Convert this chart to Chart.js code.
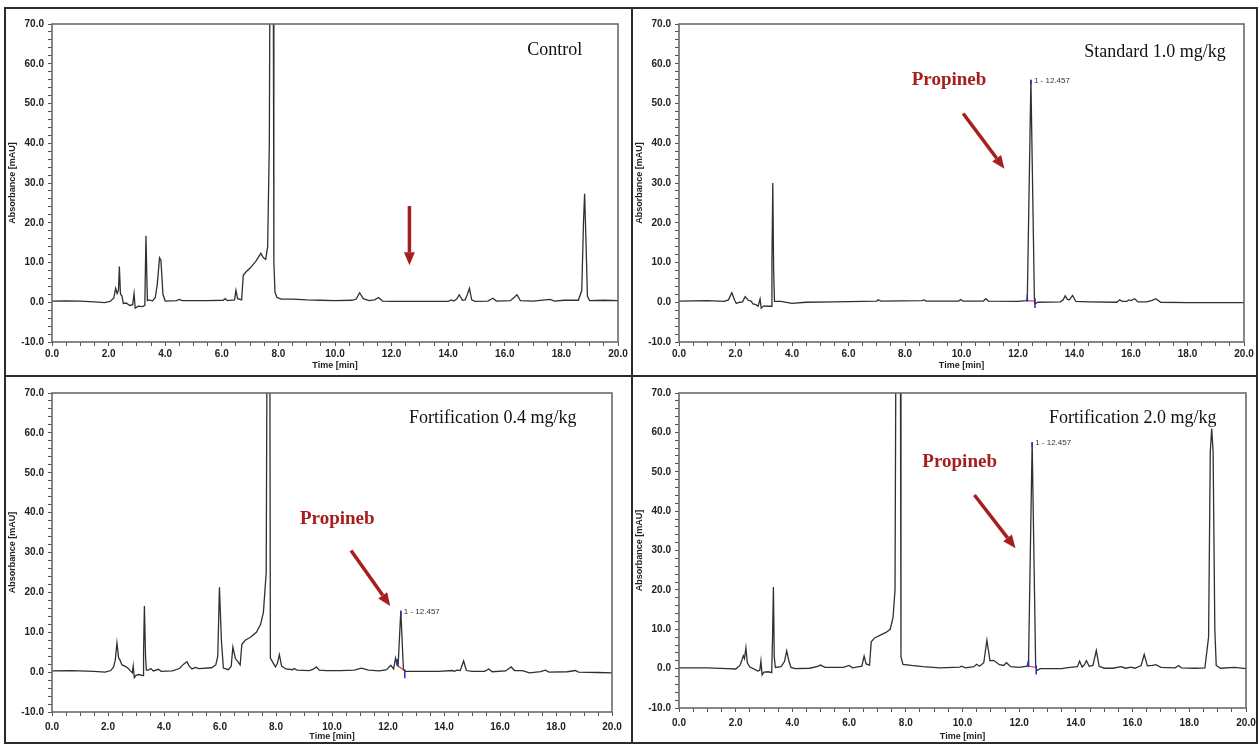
<!DOCTYPE html>
<html>
<head>
<meta charset="utf-8">
<script src="https://cdn.jsdelivr.net/npm/chart.js@4.4.0/dist/chart.umd.min.js"></script>
<style>
  html, body { margin: 0; padding: 0; background: #fff; }
  body { width: 1260px; height: 745px; position: relative; overflow: hidden; }
  .panel { position: absolute; }
  .rule { position: absolute; background: #2b2b2b; }
</style>
</head>
<body>
<div class="rule" style="left:4px;top:7px;width:1254px;height:2px"></div>
<div class="rule" style="left:4px;top:742px;width:1254px;height:2px"></div>
<div class="rule" style="left:4px;top:7px;width:2px;height:737px"></div>
<div class="rule" style="left:1256px;top:7px;width:2px;height:737px"></div>
<div class="rule" style="left:4px;top:375px;width:1254px;height:2px"></div>
<div class="rule" style="left:631px;top:7px;width:2px;height:737px"></div>

<div class="panel" style="left:6px;top:9px;width:625px;height:366px"><canvas id="c1"></canvas></div>
<div class="panel" style="left:633px;top:9px;width:623px;height:366px"><canvas id="c2"></canvas></div>
<div class="panel" style="left:6px;top:377px;width:625px;height:365px"><canvas id="c3"></canvas></div>
<div class="panel" style="left:633px;top:377px;width:623px;height:365px"><canvas id="c4"></canvas></div>

<script>
// retention time [min] and absorbance [mAU]
const controlTime = [0, 0.5, 1.0, 1.5, 1.85, 2.05, 2.18, 2.25, 2.3, 2.35, 2.38, 2.42, 2.47, 2.52, 2.62, 2.75, 2.85, 2.9, 2.94, 3.05, 3.2, 3.28, 3.32, 3.37, 3.45, 3.55, 3.65, 3.72, 3.8, 3.85, 3.92, 4.0, 4.4, 4.5, 4.6, 5.5, 6.05, 6.12, 6.2, 6.45, 6.5, 6.56, 6.7, 6.76, 6.85, 7.0, 7.2, 7.38, 7.47, 7.55, 7.62, 7.68, 7.72, 7.81, 7.84, 7.88, 7.95, 8.1, 8.5, 9.0, 9.5, 10.0, 10.6, 10.75, 10.87, 11.0, 11.2, 11.4, 11.54, 11.68, 12.0, 13.0, 14.0, 14.1, 14.2, 14.3, 14.39, 14.5, 14.6, 14.68, 14.75, 14.83, 14.95, 15.4, 15.58, 15.7, 16.2, 16.43, 16.55, 17.0, 17.6, 17.75, 18.1, 18.6, 18.72, 18.78, 18.82, 18.87, 18.92, 19.0, 19.5, 20.0];
const controlAbs = [0.3, 0.35, 0.3, 0.1, -0.1, 0.2, 1.0, 3.5, 2.2, 3.0, 9.0, 2.0, 1.6, -0.3, -0.2, -0.8, -0.6, 2.2, -1.5, -1.0, -1.1, -0.8, 16.7, 0.4, 0.6, 0.3, 1.2, 4.5, 11.2, 10.5, 2.0, 0.3, 0.4, 0.7, 0.4, 0.4, 0.5, 0.9, 0.4, 0.6, 3.0, 0.9, 0.6, 6.8, 7.6, 8.6, 10.3, 12.3, 11.2, 10.8, 14, 40, 120, 120, 10, 2.5, 1.2, 0.8, 0.8, 0.6, 0.5, 0.4, 0.5, 0.8, 2.4, 0.9, 0.4, 0.6, 1.2, 0.3, 0.2, 0.2, 0.2, 0.6, 0.3, 0.8, 1.9, 0.5, 0.6, 2.0, 3.5, 0.6, 0.2, 0.3, 1.0, 0.3, 0.4, 1.9, 0.4, 0.3, 0.7, 0.3, 0.5, 0.5, 3, 20, 27.3, 15, 1.5, 0.4, 0.5, 0.4];

const standardTime = [0, 1.0, 1.6, 1.75, 1.87, 1.97, 2.03, 2.15, 2.25, 2.34, 2.45, 2.55, 2.62, 2.72, 2.8, 2.87, 2.91, 3.0, 3.15, 3.27, 3.29, 3.32, 3.35, 3.38, 3.6, 4.0, 4.5, 5.5, 7.0, 7.05, 7.15, 8.6, 8.67, 8.75, 9.9, 9.97, 10.05, 10.78, 10.86, 10.95, 12.0, 12.3, 12.33, 12.457, 12.58, 12.6, 12.7, 13.5, 13.6, 13.67, 13.75, 13.82, 13.93, 14.05, 14.5, 15.5, 15.6, 15.7, 15.85, 15.92, 16.0, 16.13, 16.25, 16.55, 16.75, 16.88, 17.05, 18.0, 20.0];
const standardAbs = [0.3, 0.4, 0.2, 0.6, 2.4, 0.5, -0.3, 0, 0.1, 1.4, 0.5, 0.3, -0.4, -0.6, -1.0, 0.8, -1.5, -0.9, -1.0, -1.0, 10, 30, 8, 0.2, 0.2, -0.3, 0, 0.1, 0.3, 0.6, 0.3, 0.4, 0.6, 0.3, 0.3, 0.7, 0.3, 0.3, 0.9, 0.3, 0.2, 0.4, 1.0, 56, 1.0, -0.4, 0.0, 0.1, 0.6, 1.6, 0.7, 0.6, 1.7, 0.2, 0.1, 0.0, 0.6, 0.2, 0.2, 0.6, 0.4, 0.9, 0.1, 0.1, 0.5, 0.9, 0.0, -0.1, -0.1];

const fort04Time = [0, 0.7, 1.5, 1.9, 2.1, 2.2, 2.26, 2.32, 2.38, 2.43, 2.5, 2.6, 2.7, 2.8, 2.87, 2.9, 2.94, 3.0, 3.1, 3.25, 3.27, 3.3, 3.34, 3.37, 3.45, 3.53, 3.62, 3.8, 3.9, 4.3, 4.55, 4.7, 4.82, 4.9, 5.0, 5.12, 5.25, 5.7, 5.85, 5.92, 5.98, 6.05, 6.12, 6.3, 6.4, 6.46, 6.55, 6.65, 6.72, 6.78, 6.9, 7.1, 7.3, 7.45, 7.55, 7.65, 7.7, 7.77, 7.8, 7.88, 7.98, 8.05, 8.12, 8.2, 8.35, 8.6, 8.65, 8.75, 9.2, 9.35, 9.44, 9.55, 9.8, 10.3, 10.8, 11.05, 11.3, 11.7, 11.95, 12.1, 12.2, 12.27, 12.33, 12.36, 12.457, 12.55, 12.6, 13.0, 13.8, 14.3, 14.38, 14.45, 14.58, 14.7, 14.8, 15.0, 15.45, 15.6, 15.72, 16.2, 16.4, 16.52, 16.8, 17.05, 17.45, 17.62, 17.75, 18.4, 18.7, 18.8, 19.5, 20.0];
const fort04Abs = [0.3, 0.4, 0.2, 0, 0.4, 1.3, 3, 7.3, 3.5, 3.0, 1.8, 1.5, 1.1, 0.3, -0.2, 1.5, -1.4, -0.8, -0.6, -0.9, 5, 16.6, 4, 0.5, 0.5, 0.9, 0.3, 0.7, 0.2, 0.3, 0.9, 2.0, 2.6, 1.5, 0.8, 1.2, 0.9, 1.1, 1.8, 4, 21.3, 8, 1.0, 0.6, 1.5, 6.3, 3.4, 2.5, 1.8, 7.0, 8.0, 8.8, 10, 12, 15, 25, 120, 120, 3.5, 2.5, 1.3, 2.2, 4.4, 1.5, 0.8, 0.6, 0.9, 0.5, 0.4, 0.8, 1.3, 0.5, 0.4, 0.4, 0.5, 1.0, 0.5, 0.3, 0.6, 1.7, 0.8, 3.5, 1.8, 1.5, 15.4, 0.8, 0.2, 0.2, 0.2, 0.4, 0.2, 0.5, 0.4, 2.8, 0.4, 0.2, 0.2, 0.8, 0.1, 0.3, 1.3, 0.4, 0.4, -0.2, 0.1, 0.5, 0.0, 0.1, 0.4, 0.0, -0.1, -0.2];

const fort20Time = [0, 1.0, 1.7, 2.0, 2.15, 2.22, 2.27, 2.31, 2.36, 2.41, 2.5, 2.62, 2.78, 2.85, 2.89, 2.93, 3.0, 3.15, 3.27, 3.3, 3.33, 3.36, 3.4, 3.6, 3.72, 3.8, 3.88, 3.95, 4.1, 4.6, 4.9, 4.99, 5.15, 5.8, 6.0, 6.12, 6.45, 6.53, 6.6, 6.72, 6.78, 6.9, 7.1, 7.3, 7.45, 7.55, 7.62, 7.67, 7.8, 7.83, 7.9, 8.2, 8.6, 9.2, 9.9, 9.97, 10.1, 10.4, 10.5, 10.6, 10.75, 10.86, 10.97, 11.1, 11.3, 11.45, 11.55, 11.7, 12.0, 12.28, 12.33, 12.457, 12.58, 12.62, 12.75, 13.5, 13.65, 14.05, 14.13, 14.22, 14.3, 14.37, 14.47, 14.6, 14.72, 14.82, 15.0, 15.3, 15.6, 15.75, 15.95, 16.08, 16.3, 16.41, 16.52, 16.7, 16.82, 17.0, 17.5, 17.62, 17.72, 18.2, 18.55, 18.68, 18.74, 18.79, 18.84, 18.9, 18.95, 19.1, 19.6, 20.0];
const fort20Abs = [0.2, 0.2, 0.0, -0.1, 0.8, 2.2, 3.3, 2.6, 5.3, 1.5, 0.4, 0.0, -0.6, -0.4, 1.9, -1.6, -0.9, -0.8, -1.0, 8, 20.7, 3, 0.3, 0.5, 1.8, 4.5, 1.8, 0.3, 0.0, 0.1, 0.6, 0.9, 0.3, 0.3, 0.8, 0.2, 0.6, 3.2, 1.2, 0.9, 6.8, 7.8, 8.5, 9.2, 10, 13, 20, 120, 120, 3, 1.1, 0.8, 0.5, 0.2, 0.4, 0.6, 0.2, 0.5, 1.1, 0.6, 1.5, 7.2, 2.0, 2.1, 1.0, 0.8, 1.5, 0.5, 0.3, 0.6, 2.0, 57.5, 1.0, -0.5, 0.0, 0.0, 0.2, 0.5, 1.9, 0.4, 1.0, 2.0, 0.6, 0.8, 4.6, 0.6, 0.1, 0.1, 0.5, 0.1, 0.4, 0.1, 0.8, 3.6, 0.7, 0.8, 1.0, 0.3, 0.2, 0.8, 0.2, 0.1, 0.2, 8, 55, 61, 55, 10, 0.8, 0.1, 0.3, 0];

const xTickLabels = ['0.0', '2.0', '4.0', '6.0', '8.0', '10.0', '12.0', '14.0', '16.0', '18.0', '20.0'];
const yTickLabels = ['-10.0', '0.0', '10.0', '20.0', '30.0', '40.0', '50.0', '60.0', '70.0'];

const RED = '#a61e1e';

// draws the plot frame, sample names, arrows and the integration marks
const decorations = {
  id: 'decorations',
  afterDatasetsDraw(chart, args, opts) {
    const ctx = chart.ctx, xs = chart.scales.x, ys = chart.scales.y, a = chart.chartArea;
    const px = v => xs.getPixelForValue(v), py = v => ys.getPixelForValue(v);
    ctx.save();
    ctx.strokeStyle = '#6a6a6a';
    ctx.lineWidth = 1.6;
    ctx.strokeRect(a.left, a.top, a.right - a.left, a.bottom - a.top);

    // sample title
    ctx.fillStyle = '#111';
    ctx.font = '18px "Liberation Serif", "Times New Roman", serif';
    ctx.textAlign = 'right';
    ctx.textBaseline = 'middle';
    ctx.fillText(opts.title.text, px(opts.title.x), py(opts.title.y));

    if (opts.name) {
      ctx.fillStyle = RED;
      ctx.font = 'bold 19px "Liberation Serif", "Times New Roman", serif';
      ctx.textAlign = 'center';
      ctx.fillText('Propineb', px(opts.name.x), py(opts.name.y));
    }

    if (opts.arrow) {
      const r = opts.arrow;
      const x1 = px(r.x1), y1 = py(r.y1), x2 = px(r.x2), y2 = py(r.y2);
      const ang = Math.atan2(y2 - y1, x2 - x1);
      const head = 13, hw = 5.5;
      const bx = x2 - head * Math.cos(ang), by = y2 - head * Math.sin(ang);
      ctx.strokeStyle = RED;
      ctx.lineWidth = 3.5;
      ctx.beginPath();
      ctx.moveTo(x1, y1);
      ctx.lineTo(bx, by);
      ctx.stroke();
      ctx.fillStyle = RED;
      ctx.beginPath();
      ctx.moveTo(x2, y2);
      ctx.lineTo(bx + hw * Math.sin(ang), by - hw * Math.cos(ang));
      ctx.lineTo(bx - hw * Math.sin(ang), by + hw * Math.cos(ang));
      ctx.closePath();
      ctx.fill();
    }

    if (opts.peak) {
      const p = opts.peak;
      // baseline of the integrated peak
      ctx.strokeStyle = '#e04040';
      ctx.lineWidth = 1.2;
      ctx.beginPath();
      ctx.moveTo(px(p.start), py(p.startY));
      ctx.lineTo(px(p.end), py(p.endY));
      ctx.stroke();
      // start / end / apex markers
      ctx.strokeStyle = '#2030c0';
      ctx.lineWidth = 1.5;
      ctx.beginPath();
      ctx.moveTo(px(p.start), py(p.startY) + 1);
      ctx.lineTo(px(p.start), py(p.startY) - 6);
      ctx.moveTo(px(p.end), py(p.endY) - 2);
      ctx.lineTo(px(p.end), py(p.endY) + 7);
      ctx.moveTo(px(p.t), py(p.top));
      ctx.lineTo(px(p.t), py(p.top) + 5);
      ctx.stroke();
      ctx.fillStyle = '#333';
      ctx.font = '8px "Liberation Sans", Arial, sans-serif';
      ctx.textAlign = 'left';
      ctx.textBaseline = 'middle';
      ctx.fillText('1 - 12.457', px(p.t) + 3, py(p.top) + 1);
    }
    ctx.restore();
  }
};

function buildChart(id, times, values, box, deco) {
  const canvas = document.getElementById(id);
  const yWidth = box.plot[0] - box.canvas[0];
  const xHeight = box.canvas[3] - box.plot[3];
  const tickFont = { family: '"Liberation Sans", Arial, sans-serif', size: 10, weight: 'bold' };
  const titleFont = { family: '"Liberation Sans", Arial, sans-serif', size: 9, weight: 'bold' };
  return new Chart(canvas, {
    type: 'line',
    data: {
      datasets: [{
        data: times.map((t, i) => ({ x: t, y: values[i] })),
        borderColor: '#303030',
        borderWidth: 1.3,
        pointRadius: 0,
        tension: 0,
        fill: false
      }]
    },
    options: {
      responsive: true,
      maintainAspectRatio: false,
      animation: false,
      events: [],
      layout: {
        autoPadding: false,
        padding: { top: box.plot[1] - box.canvas[1], right: box.canvas[2] - box.plot[2], left: 0, bottom: 0 }
      },
      plugins: { legend: { display: false }, tooltip: { enabled: false }, decorations: deco },
      scales: {
        x: {
          type: 'linear',
          min: 0, max: 20,
          afterFit: s => { s.height = xHeight; s.paddingLeft = 0; s.paddingRight = 0; },
          border: { display: false },
          grid: { drawOnChartArea: false, tickLength: 4, color: '#555' },
          ticks: {
            stepSize: 0.5, autoSkip: false, maxRotation: 0, padding: box.xPad,
            color: '#222', font: tickFont,
            callback: v => (v % 2 === 0 ? xTickLabels[v / 2] : '')
          },
          title: { display: true, text: 'Time [min]', color: '#222', font: titleFont, padding: { top: 0, bottom: box.titlePad } }
        },
        y: {
          min: -10, max: 70,
          afterFit: s => { s.width = yWidth; s.paddingTop = 0; s.paddingBottom = 0; },
          border: { display: false },
          grid: { drawOnChartArea: false, tickLength: 4, color: '#555' },
          ticks: {
            stepSize: 2, autoSkip: false, padding: 4,
            color: '#222', font: tickFont,
            callback: v => (v % 10 === 0 ? yTickLabels[(v + 10) / 10] : '')
          },
          title: { display: true, text: 'Absorbance [mAU]', color: '#222', font: titleFont, padding: { top: 1, bottom: 0 } }
        }
      }
    },
    plugins: [decorations]
  });
}

// canvas box and plot box in page pixels: [left, top, right, bottom]
buildChart('c1', controlTime, controlAbs,
  { canvas: [6, 9, 631, 375], plot: [52, 24, 618, 342], xPad: 2, titlePad: 4 },
  { title: { text: 'Control', x: 18.74, y: 63.5 },
    arrow: { x1: 12.63, y1: 24.2, x2: 12.63, y2: 9.3 } });

buildChart('c2', standardTime, standardAbs,
  { canvas: [633, 9, 1256, 375], plot: [679, 24, 1244, 342], xPad: 2, titlePad: 4 },
  { title: { text: 'Standard 1.0 mg/kg', x: 19.35, y: 63 },
    name: { x: 9.56, y: 55.9 },
    arrow: { x1: 10.06, y1: 47.5, x2: 11.52, y2: 33.6 },
    peak: { t: 12.457, top: 56, start: 12.33, startY: 0.4, end: 12.6, endY: 0.3 } });

buildChart('c3', fort04Time, fort04Abs,
  { canvas: [6, 377, 631, 742], plot: [52, 393, 612, 712], xPad: 5, titlePad: 0 },
  { title: { text: 'Fortification 0.4 mg/kg', x: 18.73, y: 63.7 },
    name: { x: 10.19, y: 38.4 },
    arrow: { x1: 10.68, y1: 30.5, x2: 12.08, y2: 16.6 },
    peak: { t: 12.457, top: 15.4, start: 12.33, startY: 1.8, end: 12.6, endY: 0.2 } });

buildChart('c4', fort20Time, fort20Abs,
  { canvas: [633, 377, 1256, 742], plot: [679, 393, 1246, 708], xPad: 5, titlePad: 0 },
  { title: { text: 'Fortification 2.0 mg/kg', x: 18.96, y: 63.7 },
    name: { x: 9.9, y: 52.4 },
    arrow: { x1: 10.42, y1: 44.1, x2: 11.87, y2: 30.6 },
    peak: { t: 12.457, top: 57.5, start: 12.33, startY: 0.6, end: 12.6, endY: 0.3 } });
</script>
</body>
</html>
